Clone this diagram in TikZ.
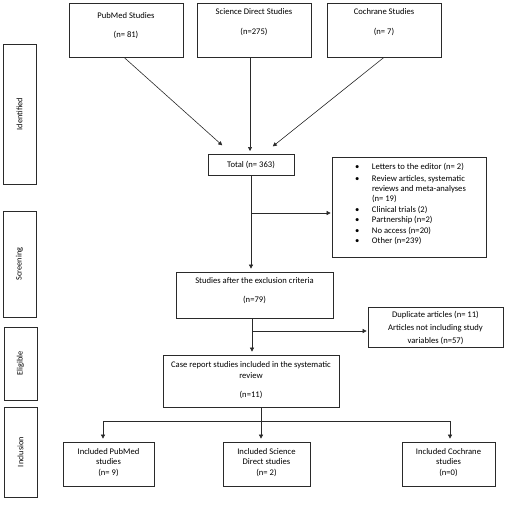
\documentclass[tikz,border=0pt]{standalone}
\usepackage{fontspec}
\setmainfont{Carlito}
\usetikzlibrary{arrows.meta}
\definecolor{linec}{HTML}{2A2A2A}
\newcommand\bxt[4]{\parbox[c][#2pt][t]{#1pt}{\centering\vspace*{#3pt}\strut #4}}
\tikzset{
  box/.style={draw=linec, line width=0.7pt, inner sep=0pt, align=center,
    font=\fontsize{8.6}{10}\selectfont, text=black},
  stagebox/.style={box, rotate=90, font=\fontsize{8.3}{10}\selectfont},
  conn/.style={draw=linec, line width=0.6pt},
  arr/.style={conn, -{Triangle[length=4pt,width=4pt]}, shorten >=1pt}
}
\begin{document}
\begin{tikzpicture}[x=1pt,y=-1pt]
\useasboundingbox (0,0) rectangle (507,509);
% stage boxes
\node[stagebox, minimum width=140pt, minimum height=33pt] (ident) at (19.5,114) {Identified};
\node[stagebox, minimum width=106pt, minimum height=33pt] (screen) at (19.5,264) {Screening};
\node[stagebox, minimum width=73pt, minimum height=33pt] (elig) at (20.5,363.5) {Eligible};
\node[stagebox, minimum width=90pt, minimum height=33pt] (inclu) at (20.5,452) {Inclusion};
% sources
\node[box] (pub) at (126,30) {\bxt{114}{54}{8.4}{PubMed Studies\\[9pt](n= 81)}};
\node[box] (sd) at (254,30) {\bxt{114}{54}{4.4}{Science Direct Studies\\[10pt](n=275)}};
\node[box] (coch) at (384,30) {\bxt{114}{54}{4.4}{Cochrane Studies\\[10pt](n= 7)}};
% total
\node[box, minimum width=86pt, minimum height=21pt] (total) at (251,164.5) {Total (n= 363)};
% exclusion list
\node[box] (excl) at (409,207) {\parbox[c][100pt][t]{154pt}{\raggedright\fontsize{8.6}{10.4}\selectfont\vspace*{5pt}\strut
\hspace*{23pt}\makebox[17pt][l]{\textbullet}Letters to the editor (n= 2)\\[1.5pt]
\hspace*{23pt}\makebox[17pt][l]{\textbullet}Review articles, systematic\\
\hspace*{40pt}reviews and meta-analyses\\
\hspace*{40pt}(n= 19)\\
\hspace*{23pt}\makebox[17pt][l]{\textbullet}Clinical trials (2)\\
\hspace*{23pt}\makebox[17pt][l]{\textbullet}Partnership (n=2)\\
\hspace*{23pt}\makebox[17pt][l]{\textbullet}No access (n=20)\\
\hspace*{23pt}\makebox[17pt][l]{\textbullet}Other (n=239)}};
% studies after exclusion
\node[box] (studies) at (254.5,295) {\bxt{157}{46}{4.4}{Studies after the exclusion criteria\\[9pt](n=79)}};
% duplicates
\node[box] (dup) at (435.5,327) {\bxt{135}{40}{3.2}{Duplicate articles (n= 11)\\[3pt]Articles not including study\\[3pt]variables (n=57)}};
% case report
\node[box] (case) at (251,381) {\bxt{176}{52}{5.2}{Case report studies included in the systematic\\[1pt]review\\[9pt](n=11)}};
% included
\node[box] (ipub) at (108.5,464) {\bxt{91}{44}{5.2}{Included PubMed\\[0.5pt]studies\\[0.5pt](n= 9)}};
\node[box] (isd) at (266.5,464) {\bxt{87}{44}{5.2}{Included Science\\[0.5pt]Direct studies\\[0.5pt](n= 2)}};
\node[box] (icoch) at (448.5,464) {\bxt{93}{44}{5.2}{Included Cochrane\\[0.5pt]studies\\[0.5pt](n=0)}};
% coordinates
\coordinate (t1) at (223,146);
\coordinate (t2) at (250,152);
\coordinate (t3) at (272,147);
\coordinate (b1) at (251,213);
\coordinate (b2) at (252,331);
\coordinate (j) at (261,421);
\coordinate (h1) at (103,421);
\coordinate (h3) at (450,421);
% connectors
\draw[arr] ([xshift=-2pt]pub.south) -- (t1);
\draw[arr] (sd.south -| t2) -- (t2);
\draw[arr] (coch.south) -- (t3);
\draw[arr, shorten >=3pt] (total.south) -- (total.south |- studies.north);
\draw[arr] (b1) -- (b1 -| excl.west);
\draw[arr, shorten >=3pt] (b2 |- studies.south) -- (b2 |- case.north);
\draw[arr] (b2) -- (b2 -| dup.west);
\draw[conn] (j |- case.south) -- (j);
\draw[conn] (h1) -- (h3);
\draw[arr, shorten >=3pt] (j) -- (j |- isd.north);
\draw[arr, shorten >=3pt] (h1) -- (h1 |- ipub.north);
\draw[arr, shorten >=3pt] (h3) -- (h3 |- icoch.north);
\end{tikzpicture}
\end{document}
